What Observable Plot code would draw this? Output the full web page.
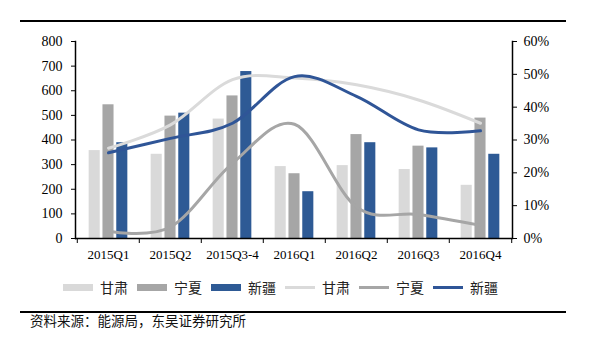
<!DOCTYPE html>
<html><head><meta charset="utf-8">
<script src="https://cdn.jsdelivr.net/npm/d3@7"></script>
<script src="https://cdn.jsdelivr.net/npm/@observablehq/plot@0.6"></script>
<style>
body{margin:0;background:#fff;width:597px;height:353px;position:relative;overflow:hidden;font-family:"Noto Sans CJK SC",sans-serif}
#chart{position:absolute;left:0;top:0}
.rule{position:absolute;left:20px;width:546px;height:2px;background:#000}
#legend{position:absolute;left:63px;top:278px;display:flex;align-items:center;height:18px}
.item{display:flex;align-items:center;margin-right:9px;font-size:14px;color:#222;line-height:18px}
.sw{width:30px;margin-right:7px}
#source{position:absolute;left:30px;top:311px;font-size:13.5px;line-height:19px;color:#111}
</style></head><body>
<div id="chart"></div>
<div class="rule" style="top:20px"></div>
<div id="legend"></div>
<div class="rule" style="top:311px"></div>
<div id="source">资料来源：能源局，东吴证券研究所</div>
<script>
const categories = ["2015Q1","2015Q2","2015Q3-4","2016Q1","2016Q2","2016Q3","2016Q4"];
const seriesNames = ["甘肃","宁夏","新疆"];
const gansuBar = [357,342,485,292,296,280,216];
const ningxiaBar = [543,497,579,263,422,375,489];
const xinjiangBar = [389,509,678,190,389,368,342];
const gansuLine = [27.5,34.6,48.4,48.9,46.8,42.2,35.1];
const ningxiaLine = [2.2,3.5,22.9,34.8,9.6,7.3,4.0];
const xinjiangLine = [26.1,30.5,35.1,49.3,43.3,33.1,32.8];
const leftTicks = [0,100,200,300,400,500,600,700,800];
const rightTicks = [0,10,20,30,40,50,60];
const barColors = ["#d9d9d9","#a6a6a6","#2e5a95"];
const lineColors = ["#dadada","#a6a6a6","#2f5597"];

const W = 597, H = 270, ML = 75, MR = 85, MT = 41, MB = 32;
const leftMax = 800, rightMax = 60;
const toLeft = p => p * leftMax / rightMax;
const bw = (W - ML - MR) / categories.length;
const barW = 11.5, gap = 2.3;
const groupOff = (bw - (3 * barW + 2 * gap)) / 2;

const barSeries = [gansuBar, ningxiaBar, xinjiangBar];
const lineSeries = [gansuLine, ningxiaLine, xinjiangLine];

const barMarks = barSeries.map((vals, k) => {
  const data = categories.map((c, i) => ({c, v: vals[i]}));
  const il = groupOff + k * (barW + gap);
  return Plot.barY(data, {x: "c", y: "v", fill: barColors[k], insetLeft: il, insetRight: bw - il - barW});
});
const lineMarks = lineSeries.map((vals, k) => {
  const data = categories.map((c, i) => ({c, v: toLeft(vals[i])}));
  return Plot.line(data, {x: "c", y: "v", stroke: lineColors[k], strokeWidth: 3, curve: "cardinal"});
});

const chart = Plot.plot({
  width: W, height: H,
  marginLeft: ML, marginRight: MR, marginTop: MT, marginBottom: MB,
  style: {fontFamily: "'Liberation Serif', serif", fontSize: "14px", color: "#000", background: "transparent"},
  x: {domain: categories, padding: 0, axis: null},
  y: {domain: [0, leftMax], axis: null},
  marks: [
    ...barMarks,
    ...lineMarks,
    Plot.ruleY([0], {stroke: "#000", strokeWidth: 1.5}),
    Plot.frame({anchor: "left", stroke: "#000", strokeWidth: 1.5}),
    Plot.frame({anchor: "right", stroke: "#000", strokeWidth: 1.5}),
    Plot.axisY(leftTicks, {anchor: "left", label: null, tickSize: 4, tickPadding: 9, fontSize: 14, tickFormat: d => d}),
    Plot.axisY(rightTicks.map(toLeft), {anchor: "right", label: null, tickSize: 4, tickPadding: 7, fontSize: 14, tickFormat: d => Math.round(d * rightMax / leftMax) + "%"}),
    Plot.axisX(categories, {anchor: "bottom", label: null, tickSize: 0, tickPadding: 11, fontSize: 13}),
    Plot.axisX(categories, {anchor: "bottom", label: null, tickSize: 5, tickFormat: () => "", dx: -bw / 2}),
    Plot.axisX([categories[categories.length - 1]], {anchor: "bottom", label: null, tickSize: 5, tickFormat: () => "", dx: bw / 2})
  ]
});
document.getElementById("chart").appendChild(chart);

const legend = document.getElementById("legend");
const items = [
  ...seriesNames.map((n, k) => ({n, color: barColors[k], h: 7})),
  ...seriesNames.map((n, k) => ({n, color: lineColors[k], h: 3}))
];
items.forEach(it => {
  const d = document.createElement("div");
  d.className = "item";
  const s = document.createElement("span");
  s.className = "sw";
  s.style.height = it.h + "px";
  s.style.background = it.color;
  d.appendChild(s);
  const t = document.createElement("span");
  t.textContent = it.n;
  d.appendChild(t);
  legend.appendChild(d);
});
</script>
</body></html>
